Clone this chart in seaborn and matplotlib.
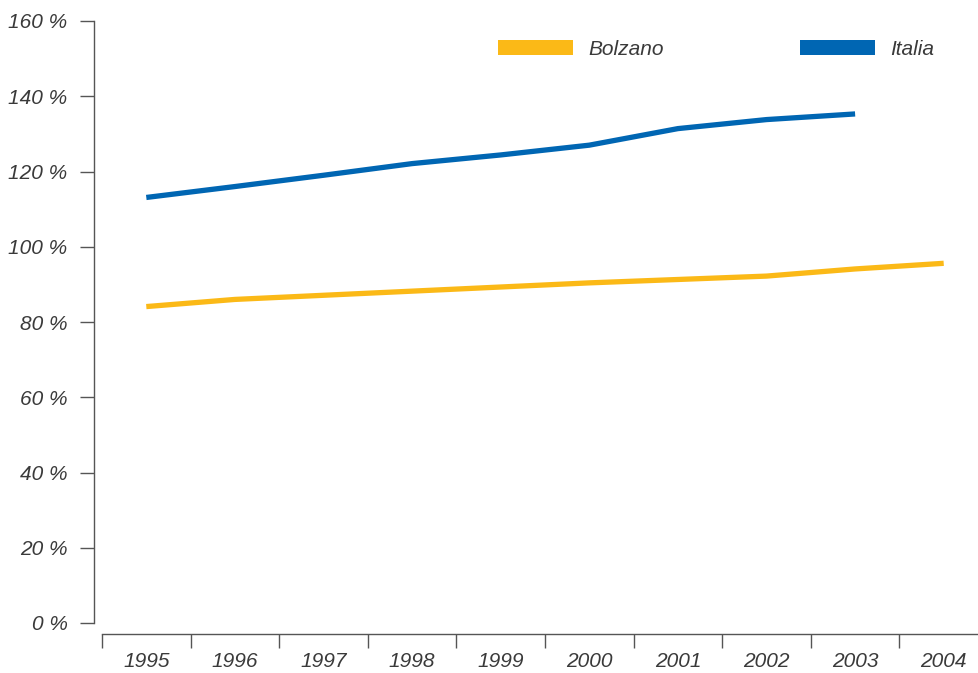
import matplotlib
matplotlib.use("Agg")
import matplotlib.pyplot as plt
import seaborn as sns
import pandas as pd
import numpy as np
from matplotlib.patches import Patch

# ---- data ----
years = [1995, 1996, 1997, 1998, 1999, 2000, 2001, 2002, 2003, 2004]
bolzano = [84.1, 86.0, 87.1, 88.2, 89.3, 90.4, 91.3, 92.2, 94.1, 95.6]
italia = [113.1, 116.0, 119.0, 122.1, 124.4, 127.0, 131.4, 133.8, 135.3]
series_names = ["Bolzano", "Italia"]
series_colors = ["#FBB917", "#0066B3"]
y_ticks = [0, 20, 40, 60, 80, 100, 120, 140, 160]
y_tick_labels = [f"{v} %" for v in y_ticks]

df = pd.concat([
    pd.DataFrame({"year": years, "value": bolzano, "series": series_names[0]}),
    pd.DataFrame({"year": years[:len(italia)], "value": italia, "series": series_names[1]}),
], ignore_index=True)

sns.set_theme(style="white")
plt.rcParams['font.family'] = ['Liberation Sans Narrow', 'Liberation Sans', 'DejaVu Sans']
plt.rcParams['font.style'] = 'italic'

W, H = 979, 673
fig = plt.figure(figsize=(W / 100, H / 100), dpi=100)
ax = fig.add_axes([102 / W, 1 - 623 / H, 886 / W, 602 / H])

sns.lineplot(data=df, x="year", y="value", hue="series", hue_order=series_names,
             palette=series_colors, linewidth=3.8, ax=ax, legend=False,
             solid_capstyle="butt")

ax.set_xlim(years[0] - 0.5, years[-1] + 0.5)
ax.set_ylim(0, 160)
ax.set_xlabel("")
ax.set_ylabel("")

txt_color = "#3a3a3a"
spine_color = "#555555"

for s in ["top", "right"]:
    ax.spines[s].set_visible(False)
ax.spines["left"].set_position(("outward", 8 * 0.72))
ax.spines["bottom"].set_position(("outward", 11 * 0.72))
for s in ["left", "bottom"]:
    ax.spines[s].set_color(spine_color)
    ax.spines[s].set_linewidth(1.0)

ax.set_yticks(y_ticks)
ax.set_yticklabels(y_tick_labels)
ax.tick_params(axis="y", which="major", direction="out", length=10, width=1.0,
               color=spine_color, pad=9, labelsize=15, labelcolor=txt_color, left=True)

ax.set_xticks(years)
ax.set_xticklabels([str(y) for y in years])
ax.set_xticks([y - 0.5 for y in years] + [years[-1] + 0.5], minor=True)
ax.tick_params(axis="x", which="major", length=0, pad=13, labelsize=15, labelcolor=txt_color, bottom=True)
ax.tick_params(axis="x", which="minor", direction="out", length=10, width=1.0, color=spine_color, bottom=True)

for lab in ax.get_xticklabels() + ax.get_yticklabels():
    lab.set_fontstyle("italic")

handles = [Patch(facecolor=c, edgecolor="none", label=n) for n, c in zip(series_names, series_colors)]
leg = fig.legend(handles=handles, loc="upper left", bbox_to_anchor=(498 / W, 1 - 40 / H),
                 ncol=2, frameon=False, borderpad=0, borderaxespad=0,
                 handlelength=3.6, handleheight=0.76, handletextpad=0.76,
                 columnspacing=6.5, prop={"size": 15, "style": "italic"})
for t in leg.get_texts():
    t.set_color(txt_color)

fig.savefig("out.png", dpi=100, facecolor="white")
